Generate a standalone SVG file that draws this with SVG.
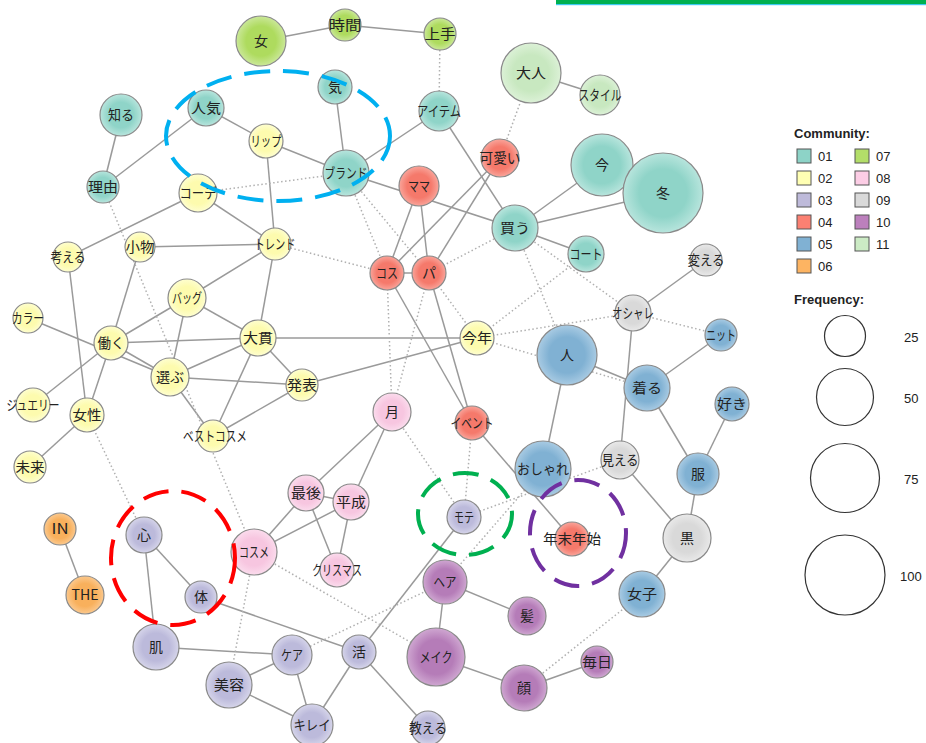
<svg xmlns="http://www.w3.org/2000/svg" width="926" height="743" viewBox="0 0 926 743">
<defs>
<radialGradient id="g01"><stop offset="0" stop-color="#8fd4c8"/><stop offset="0.6" stop-color="#8fd4c8"/><stop offset="1" stop-color="#b8e5dd"/></radialGradient>
<radialGradient id="g02"><stop offset="0" stop-color="#fdfbae"/><stop offset="0.6" stop-color="#fdfbae"/><stop offset="1" stop-color="#fefed0"/></radialGradient>
<radialGradient id="g03"><stop offset="0" stop-color="#bcbadb"/><stop offset="0.6" stop-color="#bcbadb"/><stop offset="1" stop-color="#d6d5ea"/></radialGradient>
<radialGradient id="g04"><stop offset="0" stop-color="#f5796b"/><stop offset="0.6" stop-color="#f5796b"/><stop offset="1" stop-color="#f9a59b"/></radialGradient>
<radialGradient id="g05"><stop offset="0" stop-color="#80b1d3"/><stop offset="0.6" stop-color="#80b1d3"/><stop offset="1" stop-color="#a9cbe3"/></radialGradient>
<radialGradient id="g06"><stop offset="0" stop-color="#f8b05c"/><stop offset="0.6" stop-color="#f8b05c"/><stop offset="1" stop-color="#fbc98f"/></radialGradient>
<radialGradient id="g07"><stop offset="0" stop-color="#aedb5e"/><stop offset="0.6" stop-color="#aedb5e"/><stop offset="1" stop-color="#cbe89a"/></radialGradient>
<radialGradient id="g08"><stop offset="0" stop-color="#f7c6e0"/><stop offset="0.6" stop-color="#f7c6e0"/><stop offset="1" stop-color="#fbdced"/></radialGradient>
<radialGradient id="g09"><stop offset="0" stop-color="#d9d9d9"/><stop offset="0.6" stop-color="#d9d9d9"/><stop offset="1" stop-color="#e9e9e9"/></radialGradient>
<radialGradient id="g10"><stop offset="0" stop-color="#b57cb8"/><stop offset="0.6" stop-color="#b57cb8"/><stop offset="1" stop-color="#cfa7d1"/></radialGradient>
<radialGradient id="g11"><stop offset="0" stop-color="#c8e8c0"/><stop offset="0.6" stop-color="#c8e8c0"/><stop offset="1" stop-color="#dcf1d7"/></radialGradient>
<style>
.e{stroke:#9a9a9a;stroke-width:1.5;fill:none}
.d{stroke:#b0b0b0;stroke-width:1.5;stroke-dasharray:1.5 2.5;fill:none}
.n circle{stroke:#8a8a8a;stroke-width:1.2}
.n text{font-family:"Noto Sans CJK JP","Noto Sans",sans-serif;font-size:14px;fill:#222;text-anchor:middle}
.c01 circle{fill:url(#g01)}.c02 circle{fill:url(#g02)}.c03 circle{fill:url(#g03)}.c04 circle{fill:url(#g04)}
.c05 circle{fill:url(#g05)}.c06 circle{fill:url(#g06)}.c07 circle{fill:url(#g07)}.c08 circle{fill:url(#g08)}
.c09 circle{fill:url(#g09)}.c10 circle{fill:url(#g10)}.c11 circle{fill:url(#g11)}
.lg{font-family:"Liberation Sans",Arial,sans-serif;font-size:13px;fill:#222}
.lgb{font-family:"Liberation Sans",Arial,sans-serif;font-size:13px;font-weight:bold;fill:#222}
.sq{stroke:#555;stroke-width:1}
.fc{fill:none;stroke:#333;stroke-width:1.2}
.hl{fill:none;stroke-width:4;stroke-dasharray:26 13}
</style>
</defs>
<rect width="926" height="743" fill="#ffffff"/>
<rect x="556" y="0" width="370" height="4" fill="#00b050"/>
<rect x="556" y="4" width="370" height="1.2" fill="#3cc8f0"/>

<g id="connectors">
<line class="e" x1="261" y1="41" x2="345" y2="25"/>
<line class="e" x1="345" y1="25" x2="440" y2="34"/>
<line class="e" x1="335" y1="87" x2="346" y2="173"/>
<line class="e" x1="346" y1="173" x2="439" y2="111"/>
<line class="e" x1="439" y1="111" x2="515" y2="228"/>
<line class="e" x1="531" y1="73" x2="600" y2="95"/>
<line class="e" x1="206" y1="108" x2="103" y2="187"/>
<line class="e" x1="206" y1="108" x2="266" y2="141"/>
<line class="e" x1="121" y1="115" x2="103" y2="187"/>
<line class="e" x1="266" y1="141" x2="346" y2="173"/>
<line class="e" x1="266" y1="141" x2="275" y2="244"/>
<line class="e" x1="198" y1="193" x2="68" y2="257"/>
<line class="e" x1="198" y1="193" x2="275" y2="244"/>
<line class="e" x1="346" y1="173" x2="515" y2="228"/>
<line class="e" x1="515" y1="228" x2="602" y2="165"/>
<line class="e" x1="515" y1="228" x2="663" y2="193"/>
<line class="e" x1="515" y1="228" x2="586" y2="254"/>
<line class="e" x1="419" y1="186" x2="387" y2="273"/>
<line class="e" x1="419" y1="186" x2="429" y2="273"/>
<line class="e" x1="500" y1="158" x2="387" y2="273"/>
<line class="e" x1="500" y1="158" x2="429" y2="273"/>
<line class="e" x1="387" y1="273" x2="429" y2="273"/>
<line class="e" x1="387" y1="273" x2="472" y2="423"/>
<line class="e" x1="429" y1="273" x2="472" y2="423"/>
<line class="e" x1="472" y1="423" x2="572" y2="539"/>
<line class="e" x1="111" y1="343" x2="258" y2="338"/>
<line class="e" x1="258" y1="338" x2="477" y2="338"/>
<line class="e" x1="302" y1="385" x2="477" y2="338"/>
<line class="e" x1="140" y1="247" x2="275" y2="244"/>
<line class="e" x1="140" y1="247" x2="111" y2="343"/>
<line class="e" x1="187" y1="298" x2="275" y2="244"/>
<line class="e" x1="187" y1="298" x2="111" y2="343"/>
<line class="e" x1="187" y1="298" x2="170" y2="377"/>
<line class="e" x1="187" y1="298" x2="258" y2="338"/>
<line class="e" x1="275" y1="244" x2="258" y2="338"/>
<line class="e" x1="28" y1="318" x2="170" y2="377"/>
<line class="e" x1="111" y1="343" x2="170" y2="377"/>
<line class="e" x1="170" y1="377" x2="258" y2="338"/>
<line class="e" x1="170" y1="377" x2="302" y2="385"/>
<line class="e" x1="258" y1="338" x2="302" y2="385"/>
<line class="e" x1="258" y1="338" x2="213" y2="436"/>
<line class="e" x1="170" y1="377" x2="213" y2="436"/>
<line class="e" x1="302" y1="385" x2="213" y2="436"/>
<line class="e" x1="111" y1="343" x2="33" y2="405"/>
<line class="e" x1="111" y1="343" x2="87" y2="415"/>
<line class="e" x1="68" y1="257" x2="87" y2="415"/>
<line class="e" x1="87" y1="415" x2="30" y2="467"/>
<line class="e" x1="392" y1="412" x2="306" y2="493"/>
<line class="e" x1="392" y1="412" x2="351" y2="502"/>
<line class="e" x1="306" y1="493" x2="351" y2="502"/>
<line class="e" x1="306" y1="493" x2="254" y2="552"/>
<line class="e" x1="351" y1="502" x2="254" y2="552"/>
<line class="e" x1="306" y1="493" x2="337" y2="570"/>
<line class="e" x1="351" y1="502" x2="337" y2="570"/>
<line class="e" x1="60" y1="529" x2="85" y2="595"/>
<line class="e" x1="144" y1="535" x2="201" y2="597"/>
<line class="e" x1="144" y1="535" x2="156" y2="647"/>
<line class="e" x1="201" y1="597" x2="359" y2="652"/>
<line class="e" x1="156" y1="647" x2="292" y2="655"/>
<line class="e" x1="292" y1="655" x2="229" y2="685"/>
<line class="e" x1="292" y1="655" x2="312" y2="725"/>
<line class="e" x1="229" y1="685" x2="312" y2="725"/>
<line class="e" x1="359" y1="652" x2="312" y2="725"/>
<line class="e" x1="359" y1="652" x2="428" y2="728"/>
<line class="e" x1="359" y1="652" x2="464" y2="517"/>
<line class="e" x1="445" y1="582" x2="436" y2="657"/>
<line class="e" x1="445" y1="582" x2="527" y2="616"/>
<line class="e" x1="436" y1="657" x2="524" y2="688"/>
<line class="e" x1="524" y1="688" x2="597" y2="662"/>
<line class="e" x1="567" y1="355" x2="543" y2="469"/>
<line class="e" x1="567" y1="355" x2="647" y2="388"/>
<line class="e" x1="647" y1="388" x2="721" y2="335"/>
<line class="e" x1="647" y1="388" x2="698" y2="474"/>
<line class="e" x1="732" y1="404" x2="698" y2="474"/>
<line class="e" x1="698" y1="474" x2="687" y2="538"/>
<line class="e" x1="687" y1="538" x2="642" y2="594"/>
<line class="e" x1="633" y1="313" x2="706" y2="260"/>
<line class="e" x1="633" y1="313" x2="620" y2="460"/>
<line class="e" x1="620" y1="460" x2="687" y2="538"/>

<line class="d" x1="103" y1="187" x2="254" y2="552"/>
<line class="d" x1="87" y1="415" x2="144" y2="535"/>
<line class="d" x1="254" y1="552" x2="229" y2="685"/>
<line class="d" x1="254" y1="552" x2="436" y2="657"/>
<line class="d" x1="292" y1="655" x2="445" y2="582"/>
<line class="d" x1="392" y1="412" x2="464" y2="517"/>
<line class="d" x1="472" y1="423" x2="464" y2="517"/>
<line class="d" x1="387" y1="273" x2="392" y2="412"/>
<line class="d" x1="429" y1="273" x2="392" y2="412"/>
<line class="d" x1="429" y1="273" x2="477" y2="338"/>
<line class="d" x1="477" y1="338" x2="586" y2="254"/>
<line class="d" x1="477" y1="338" x2="633" y2="313"/>
<line class="d" x1="477" y1="338" x2="647" y2="388"/>
<line class="d" x1="515" y1="228" x2="567" y2="355"/>
<line class="d" x1="515" y1="228" x2="633" y2="313"/>
<line class="d" x1="633" y1="313" x2="721" y2="335"/>
<line class="d" x1="440" y1="34" x2="439" y2="111"/>
<line class="d" x1="500" y1="158" x2="531" y2="73"/>
<line class="d" x1="346" y1="173" x2="198" y2="193"/>
<line class="d" x1="346" y1="173" x2="387" y2="273"/>
<line class="d" x1="346" y1="173" x2="429" y2="273"/>
<line class="d" x1="275" y1="244" x2="387" y2="273"/>
<line class="d" x1="429" y1="273" x2="515" y2="228"/>
<line class="d" x1="620" y1="460" x2="464" y2="517"/>
<line class="d" x1="445" y1="582" x2="543" y2="469"/>
<line class="d" x1="524" y1="688" x2="642" y2="594"/>
</g>

<g id="n_onna" class="n c07"><circle cx="261" cy="41" r="25"/><text x="261" y="46">女</text></g>
<g id="n_jikan" class="n c07"><circle cx="345" cy="25" r="16"/><text x="345" y="30" textLength="33" lengthAdjust="spacingAndGlyphs">時間</text></g>
<g id="n_jouzu" class="n c07"><circle cx="440" cy="34" r="16"/><text x="440" y="39" textLength="31" lengthAdjust="spacingAndGlyphs">上手</text></g>
<g id="n_ki" class="n c01"><circle cx="335" cy="87" r="17"/><text x="335" y="92">気</text></g>
<g id="n_item" class="n c01"><circle cx="439" cy="111" r="20"/><text x="439" y="116" textLength="44" lengthAdjust="spacingAndGlyphs">アイテム</text></g>
<g id="n_otona" class="n c11"><circle cx="531" cy="73" r="30"/><text x="531" y="78" textLength="30" lengthAdjust="spacingAndGlyphs">大人</text></g>
<g id="n_style" class="n c11"><circle cx="600" cy="95" r="20"/><text x="600" y="100" textLength="43" lengthAdjust="spacingAndGlyphs">スタイル</text></g>
<g id="n_kawaii" class="n c04"><circle cx="500" cy="158" r="19"/><text x="500" y="163" textLength="41" lengthAdjust="spacingAndGlyphs">可愛い</text></g>
<g id="n_brand" class="n c01"><circle cx="346" cy="173" r="23"/><text x="346" y="178" textLength="43" lengthAdjust="spacingAndGlyphs">ブランド</text></g>
<g id="n_mama" class="n c04"><circle cx="419" cy="186" r="20"/><text x="419" y="191" textLength="22" lengthAdjust="spacingAndGlyphs">ママ</text></g>
<g id="n_ima" class="n c01"><circle cx="602" cy="165" r="31"/><text x="602" y="170">今</text></g>
<g id="n_fuyu" class="n c01"><circle cx="663" cy="193" r="40"/><text x="663" y="198">冬</text></g>
<g id="n_kau" class="n c01"><circle cx="515" cy="228" r="23"/><text x="515" y="233" textLength="30" lengthAdjust="spacingAndGlyphs">買う</text></g>
<g id="n_shiru" class="n c01"><circle cx="121" cy="115" r="21"/><text x="121" y="120" textLength="26" lengthAdjust="spacingAndGlyphs">知る</text></g>
<g id="n_ninki" class="n c01"><circle cx="206" cy="108" r="18"/><text x="206" y="113" textLength="30" lengthAdjust="spacingAndGlyphs">人気</text></g>
<g id="n_lip" class="n c02"><circle cx="266" cy="141" r="17"/><text x="266" y="146" textLength="31" lengthAdjust="spacingAndGlyphs">リップ</text></g>
<g id="n_riyu" class="n c01"><circle cx="103" cy="187" r="16"/><text x="103" y="192" textLength="30" lengthAdjust="spacingAndGlyphs">理由</text></g>
<g id="n_code" class="n c02"><circle cx="198" cy="193" r="19"/><text x="198" y="198" textLength="37" lengthAdjust="spacingAndGlyphs">コーデ</text></g>
<g id="n_trend" class="n c02"><circle cx="275" cy="244" r="16"/><text x="275" y="249" textLength="41" lengthAdjust="spacingAndGlyphs">トレンド</text></g>
<g id="n_kangaeru" class="n c02"><circle cx="68" cy="257" r="15"/><text x="68" y="262" textLength="35" lengthAdjust="spacingAndGlyphs">考える</text></g>
<g id="n_komono" class="n c02"><circle cx="140" cy="247" r="15"/><text x="140" y="252" textLength="29" lengthAdjust="spacingAndGlyphs">小物</text></g>
<g id="n_bag" class="n c02"><circle cx="187" cy="298" r="19"/><text x="187" y="303" textLength="30" lengthAdjust="spacingAndGlyphs">バッグ</text></g>
<g id="n_color" class="n c02"><circle cx="28" cy="318" r="15"/><text x="28" y="323" textLength="32" lengthAdjust="spacingAndGlyphs">カラー</text></g>
<g id="n_hataraku" class="n c02"><circle cx="111" cy="343" r="17"/><text x="111" y="348" textLength="27" lengthAdjust="spacingAndGlyphs">働く</text></g>
<g id="n_ohnuki" class="n c02"><circle cx="258" cy="338" r="18"/><text x="258" y="343" textLength="30" lengthAdjust="spacingAndGlyphs">大貫</text></g>
<g id="n_erabu" class="n c02"><circle cx="170" cy="377" r="19"/><text x="170" y="382" textLength="28" lengthAdjust="spacingAndGlyphs">選ぶ</text></g>
<g id="n_happyo" class="n c02"><circle cx="302" cy="385" r="16"/><text x="302" y="390" textLength="30" lengthAdjust="spacingAndGlyphs">発表</text></g>
<g id="n_jewelry" class="n c02"><circle cx="33" cy="405" r="17"/><text x="33" y="410" textLength="53" lengthAdjust="spacingAndGlyphs">ジュエリー</text></g>
<g id="n_josei" class="n c02"><circle cx="87" cy="415" r="17"/><text x="87" y="420" textLength="29" lengthAdjust="spacingAndGlyphs">女性</text></g>
<g id="n_bestcosme" class="n c02"><circle cx="213" cy="436" r="16"/><text x="215" y="441" textLength="64" lengthAdjust="spacingAndGlyphs">ベストコスメ</text></g>
<g id="n_mirai" class="n c02"><circle cx="30" cy="467" r="16"/><text x="30" y="472" textLength="29" lengthAdjust="spacingAndGlyphs">未来</text></g>
<g id="n_kosu" class="n c04"><circle cx="387" cy="273" r="17"/><text x="387" y="278" textLength="22" lengthAdjust="spacingAndGlyphs">コス</text></g>
<g id="n_pa" class="n c04"><circle cx="429" cy="273" r="17"/><text x="429" y="278">パ</text></g>
<g id="n_coat" class="n c01"><circle cx="586" cy="254" r="18"/><text x="586" y="259" textLength="33" lengthAdjust="spacingAndGlyphs">コート</text></g>
<g id="n_kaeru" class="n c09"><circle cx="706" cy="260" r="16"/><text x="706" y="265" textLength="37" lengthAdjust="spacingAndGlyphs">変える</text></g>
<g id="n_oshare_k" class="n c09"><circle cx="633" cy="313" r="18"/><text x="633" y="318" textLength="42" lengthAdjust="spacingAndGlyphs">オシャレ</text></g>
<g id="n_knit" class="n c05"><circle cx="721" cy="335" r="16"/><text x="721" y="340" textLength="30" lengthAdjust="spacingAndGlyphs">ニット</text></g>
<g id="n_kotoshi" class="n c02"><circle cx="477" cy="338" r="17"/><text x="477" y="343" textLength="30" lengthAdjust="spacingAndGlyphs">今年</text></g>
<g id="n_hito" class="n c05"><circle cx="567" cy="355" r="30"/><text x="567" y="360">人</text></g>
<g id="n_kiru" class="n c05"><circle cx="647" cy="388" r="23"/><text x="647" y="393" textLength="30" lengthAdjust="spacingAndGlyphs">着る</text></g>
<g id="n_suki" class="n c05"><circle cx="732" cy="404" r="17"/><text x="732" y="409" textLength="30" lengthAdjust="spacingAndGlyphs">好き</text></g>
<g id="n_tsuki" class="n c08"><circle cx="392" cy="412" r="19"/><text x="392" y="417">月</text></g>
<g id="n_event" class="n c04"><circle cx="472" cy="423" r="17"/><text x="472" y="428" textLength="43" lengthAdjust="spacingAndGlyphs">イベント</text></g>
<g id="n_oshare" class="n c05"><circle cx="543" cy="469" r="28"/><text x="543" y="474" textLength="52" lengthAdjust="spacingAndGlyphs">おしゃれ</text></g>
<g id="n_mieru" class="n c09"><circle cx="620" cy="460" r="19"/><text x="620" y="465" textLength="37" lengthAdjust="spacingAndGlyphs">見える</text></g>
<g id="n_fuku" class="n c05"><circle cx="698" cy="474" r="21"/><text x="698" y="479">服</text></g>
<g id="n_mote" class="n c03"><circle cx="464" cy="517" r="17"/><text x="464" y="522" textLength="20" lengthAdjust="spacingAndGlyphs">モテ</text></g>
<g id="n_nenmatsu" class="n c04"><circle cx="572" cy="539" r="17"/><text x="572" y="544" textLength="58" lengthAdjust="spacingAndGlyphs">年末年始</text></g>
<g id="n_kuro" class="n c09"><circle cx="687" cy="538" r="24"/><text x="687" y="543">黒</text></g>
<g id="n_hair" class="n c10"><circle cx="445" cy="582" r="22"/><text x="445" y="587" textLength="23" lengthAdjust="spacingAndGlyphs">ヘア</text></g>
<g id="n_joshi" class="n c05"><circle cx="642" cy="594" r="23"/><text x="642" y="599" textLength="30" lengthAdjust="spacingAndGlyphs">女子</text></g>
<g id="n_kami" class="n c10"><circle cx="527" cy="616" r="19"/><text x="527" y="621">髪</text></g>
<g id="n_make" class="n c10"><circle cx="436" cy="657" r="29"/><text x="436" y="662" textLength="33" lengthAdjust="spacingAndGlyphs">メイク</text></g>
<g id="n_kao" class="n c10"><circle cx="524" cy="688" r="23"/><text x="524" y="693">顔</text></g>
<g id="n_mainichi" class="n c10"><circle cx="597" cy="662" r="16"/><text x="597" y="667" textLength="30" lengthAdjust="spacingAndGlyphs">毎日</text></g>
<g id="n_oshieru" class="n c03"><circle cx="428" cy="728" r="17"/><text x="428" y="733" textLength="38" lengthAdjust="spacingAndGlyphs">教える</text></g>
<g id="n_saigo" class="n c08"><circle cx="306" cy="493" r="18"/><text x="306" y="498" textLength="30" lengthAdjust="spacingAndGlyphs">最後</text></g>
<g id="n_heisei" class="n c08"><circle cx="351" cy="502" r="18"/><text x="351" y="507" textLength="30" lengthAdjust="spacingAndGlyphs">平成</text></g>
<g id="n_cosme" class="n c08"><circle cx="254" cy="552" r="23"/><text x="254" y="557" textLength="30" lengthAdjust="spacingAndGlyphs">コスメ</text></g>
<g id="n_xmas" class="n c08"><circle cx="337" cy="570" r="17"/><text x="337" y="575" textLength="50" lengthAdjust="spacingAndGlyphs">クリスマス</text></g>
<g id="n_in" class="n c06"><circle cx="60" cy="529" r="16"/><text x="60" y="534" textLength="17" lengthAdjust="spacingAndGlyphs">IN</text></g>
<g id="n_kokoro" class="n c03"><circle cx="144" cy="535" r="18"/><text x="144" y="540">心</text></g>
<g id="n_the" class="n c06"><circle cx="85" cy="595" r="19"/><text x="85" y="600" textLength="27" lengthAdjust="spacingAndGlyphs">THE</text></g>
<g id="n_karada" class="n c03"><circle cx="201" cy="597" r="16"/><text x="201" y="602">体</text></g>
<g id="n_hada" class="n c03"><circle cx="156" cy="647" r="23"/><text x="156" y="652">肌</text></g>
<g id="n_care" class="n c03"><circle cx="292" cy="655" r="20"/><text x="292" y="660" textLength="22" lengthAdjust="spacingAndGlyphs">ケア</text></g>
<g id="n_katsu" class="n c03"><circle cx="359" cy="652" r="17"/><text x="359" y="657">活</text></g>
<g id="n_biyou" class="n c03"><circle cx="229" cy="685" r="23"/><text x="229" y="690" textLength="30" lengthAdjust="spacingAndGlyphs">美容</text></g>
<g id="n_kirei" class="n c03"><circle cx="312" cy="725" r="21"/><text x="312" y="730" textLength="37" lengthAdjust="spacingAndGlyphs">キレイ</text></g>

<g id="highlights">
<ellipse class="hl" cx="278" cy="136" rx="112" ry="65" stroke="#00b0f0"/>
<ellipse class="hl" cx="173" cy="558" rx="62" ry="67" stroke="#ff0000"/>
<ellipse class="hl" cx="465" cy="514" rx="47" ry="41" stroke="#00b050"/>
<ellipse class="hl" cx="578" cy="533" rx="48" ry="53" stroke="#7030a0"/>
</g>

<g id="legend">
<text class="lgb" x="794" y="138">Community:</text>
<rect class="sq" x="797" y="149" width="14" height="14" fill="#8dd3c7"/><text class="lg" x="818" y="161">01</text>
<rect class="sq" x="797" y="171" width="14" height="14" fill="#ffffb3"/><text class="lg" x="818" y="183">02</text>
<rect class="sq" x="797" y="193" width="14" height="14" fill="#bebada"/><text class="lg" x="818" y="205">03</text>
<rect class="sq" x="797" y="215" width="14" height="14" fill="#fb8072"/><text class="lg" x="818" y="227">04</text>
<rect class="sq" x="797" y="237" width="14" height="14" fill="#80b1d3"/><text class="lg" x="818" y="249">05</text>
<rect class="sq" x="797" y="259" width="14" height="14" fill="#fdb462"/><text class="lg" x="818" y="271">06</text>
<rect class="sq" x="855" y="149" width="14" height="14" fill="#b3de69"/><text class="lg" x="876" y="161">07</text>
<rect class="sq" x="855" y="171" width="14" height="14" fill="#fccde5"/><text class="lg" x="876" y="183">08</text>
<rect class="sq" x="855" y="193" width="14" height="14" fill="#d9d9d9"/><text class="lg" x="876" y="205">09</text>
<rect class="sq" x="855" y="215" width="14" height="14" fill="#bc80bd"/><text class="lg" x="876" y="227">10</text>
<rect class="sq" x="855" y="237" width="14" height="14" fill="#ccebc5"/><text class="lg" x="876" y="249">11</text>
<text class="lgb" x="794" y="304">Frequency:</text>
<circle class="fc" cx="845" cy="336" r="20.5"/><text class="lg" x="904" y="342">25</text>
<circle class="fc" cx="845" cy="397" r="28.5"/><text class="lg" x="904" y="403">50</text>
<circle class="fc" cx="845" cy="478" r="34.5"/><text class="lg" x="904" y="484">75</text>
<circle class="fc" cx="845" cy="575" r="40"/><text class="lg" x="900" y="581">100</text>
</g>
</svg>
